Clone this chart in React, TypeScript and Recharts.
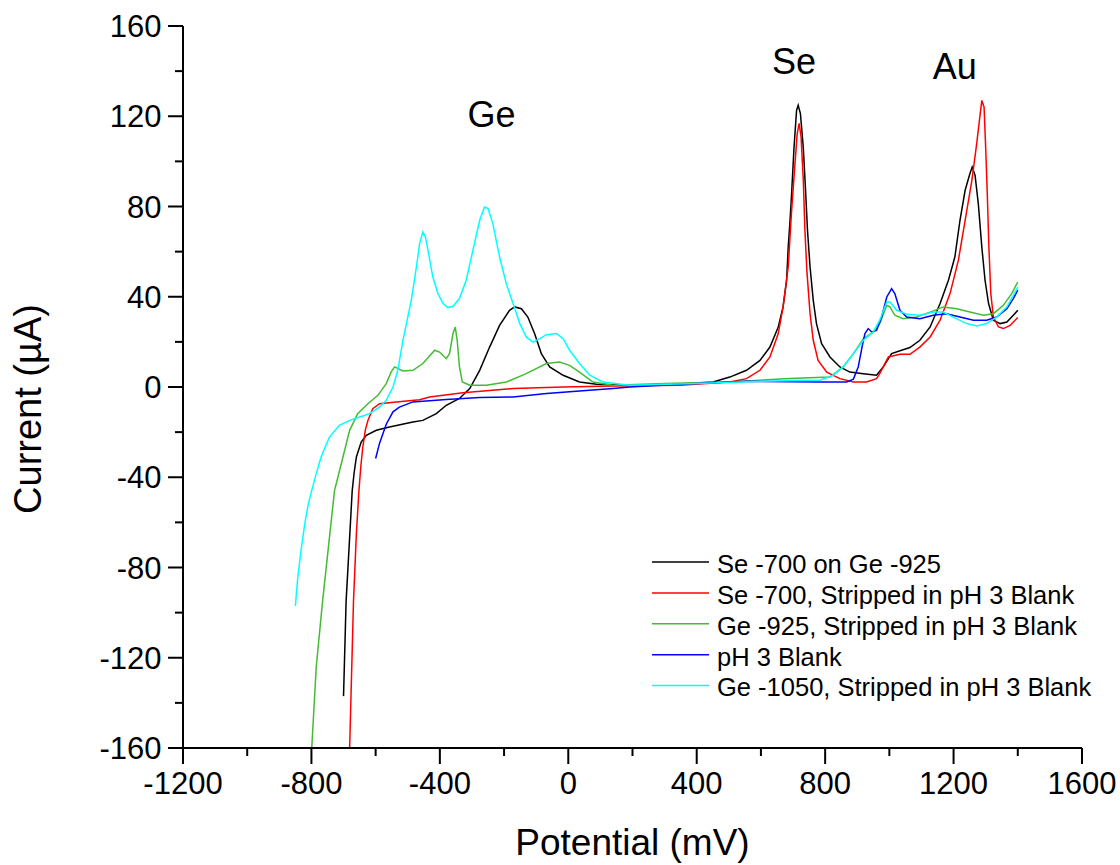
import { LineChart, Line, XAxis, YAxis, Legend, ReferenceDot } from "recharts";

type Pt = [number, number];

const FONT = "'Liberation Sans', Arial, sans-serif";

// potential (mV), current (µA)
const SE_ON_GE: Pt[] = [
  [-700, -137], [-692, -95], [-673, -46], [-667, -38], [-660, -31], [-645, -24.4], [-629, -21.4],
  [-598, -19.2], [-557, -17.7], [-484, -15.5], [-453, -14.8], [-411, -11.8], [-380, -8.1],
  [-339, -5.1], [-307, -0.7], [-276, 7.4], [-245, 17.7], [-214, 27.3], [-183, 34], [-167, 35.5],
  [-146, 34.7], [-126, 31], [-105, 23.7], [-84, 14.8], [-58, 8.9], [-16, 5.2], [35, 2.2],
  [88, 1.2], [191, 0.75], [300, 1.0], [400, 1.8], [451, 2.2], [503, 4.4], [555, 7.4], [597, 11.8],
  [628, 17.7], [654, 26.6], [669, 35.5], [680, 47.3], [685, 62], [690, 72.4], [695, 84.2],
  [703, 106], [711, 122.6], [716, 124.9], [723, 121.2], [732, 106], [739, 87.2], [745, 69.5],
  [753, 53.2], [763, 38.4], [773, 28.1], [789, 19.2], [815, 13.3], [846, 8.9], [877, 6.6],
  [919, 5.9], [960, 5.2], [981, 8.9], [1007, 14.8], [1038, 16.3], [1064, 17.5], [1095, 20.7],
  [1127, 26.6], [1158, 37], [1184, 47.3], [1204, 57.6], [1220, 73.9], [1236, 87.2], [1251, 94.6],
  [1258, 97.5], [1267, 93.8], [1277, 81.3], [1288, 62], [1298, 47.3], [1309, 37], [1324, 29.6],
  [1345, 28.1], [1366, 28.8], [1386, 31.8], [1400, 34],
];

const SE_STRIPPED: Pt[] = [
  [-684, -175], [-681, -160], [-669, -95], [-660, -65], [-652, -45.8], [-646, -35], [-640, -26.6],
  [-632, -19], [-624, -14.8], [-609, -9.6], [-588, -7.4], [-536, -6.6], [-463, -5.6], [-432, -4.4],
  [-328, -2.5], [-172, -0.7], [-16, 0], [139, 0.4], [347, 0.75], [503, 2.2], [555, 3.7],
  [597, 7.4], [628, 13.3], [654, 23.7], [669, 35.5], [685, 53.2], [695, 76.9], [706, 99],
  [713, 112.3], [719, 116.8], [725, 110.8], [732, 91.6], [737, 69.5], [743, 51.7], [753, 32.5],
  [763, 20.7], [778, 11.8], [805, 6.6], [846, 3.7], [888, 2.2], [929, 2.2], [960, 3.7],
  [970, 5.9], [997, 13.3], [1033, 14.5], [1064, 14.5], [1095, 17.7], [1127, 22.2], [1158, 29.6],
  [1189, 41.4], [1215, 56.2], [1236, 73.9], [1257, 91.6], [1272, 107.9], [1283, 121.2],
  [1288, 127], [1295, 124], [1300, 106], [1305, 85.7], [1310, 62], [1316, 41.4], [1324, 31],
  [1340, 26.6], [1355, 25.9], [1376, 27.3], [1400, 30.8],
];

const GE_925: Pt[] = [
  [-805, -175], [-799, -160], [-785, -124], [-765, -94.6], [-728, -45.8], [-707, -34],
  [-681, -19.2], [-656, -11.8], [-624, -7.4], [-593, -3.7], [-567, 1.5], [-552, 6.6], [-541, 8.9],
  [-515, 7.1], [-484, 7.4], [-453, 10.4], [-416, 16.3], [-401, 15.5], [-380, 12.6], [-370, 14.8],
  [-359, 23.7], [-352, 26.6], [-346, 20.7], [-339, 8.9], [-330, 2.2], [-307, 0.75], [-255, 0.75],
  [-193, 2.2], [-131, 5.9], [-68, 10.4], [-27, 11.1], [4, 9.6], [35, 6.6], [77, 2.2], [139, 0.75],
  [300, 1.5], [500, 2.2], [690, 3.8], [815, 4.4], [856, 8.9], [888, 14.8], [919, 21.4],
  [950, 24.4], [970, 28.1], [992, 36.2], [1002, 35.5], [1017, 31.8], [1043, 30.3], [1085, 31],
  [1127, 33.2], [1168, 35.5], [1210, 34.7], [1251, 33.2], [1293, 31.8], [1324, 32.5],
  [1355, 36.2], [1381, 41.4], [1400, 46.5],
];

const BLANK: Pt[] = [
  [-600, -31.7], [-588, -25], [-567, -16.5], [-546, -11], [-526, -8.9], [-484, -6.6],
  [-380, -5.5], [-276, -4.7], [-172, -4.4], [-68, -2.9], [35, -1.8], [139, -0.7], [191, 0],
  [350, 1.2], [555, 2.5], [784, 2.2], [867, 2.2], [888, 3.5], [903, 8.9], [917, 19.2],
  [924, 23.7], [934, 25.9], [945, 24.4], [960, 25.1], [976, 31], [992, 39.9], [1007, 43.6],
  [1017, 41.4], [1033, 34], [1054, 31], [1095, 30.3], [1137, 31.8], [1178, 32.5], [1220, 31],
  [1262, 29.6], [1303, 29.6], [1334, 31], [1366, 34.7], [1386, 39.2], [1400, 42.9],
];

const GE_1050: Pt[] = [
  [-850, -97], [-843, -85], [-832, -72], [-820, -60], [-810, -52], [-799, -45.8], [-785, -38.4],
  [-770, -31], [-744, -22.2], [-713, -17], [-681, -14.8], [-650, -13.3], [-619, -11.8],
  [-588, -8.9], [-567, -5.9], [-546, 0], [-531, 7.4], [-515, 20.7], [-489, 38.4], [-473, 53.2],
  [-463, 63.5], [-453, 68.7], [-445, 66.5], [-437, 60.6], [-422, 48.8], [-406, 41.4], [-390, 37],
  [-375, 35.2], [-359, 35.8], [-339, 39.2], [-318, 47.3], [-297, 60.6], [-276, 73.9],
  [-261, 79.8], [-250, 79.1], [-235, 72.4], [-214, 57.6], [-193, 45.8], [-172, 37], [-151, 28.1],
  [-131, 22.2], [-110, 19.9], [-89, 21.4], [-68, 23.2], [-37, 23.7], [-16, 21.4], [4, 16.3],
  [35, 10.4], [67, 5.2], [108, 2.2], [191, 0.75], [400, 1.5], [600, 2.5], [784, 3], [825, 5.2],
  [856, 8.9], [888, 14.8], [919, 20.7], [950, 24.4], [970, 29.6], [992, 37.7], [1002, 37.7],
  [1023, 34], [1054, 32.2], [1095, 31.8], [1137, 33.2], [1168, 33.2], [1199, 31], [1241, 28.1],
  [1272, 27], [1303, 28.1], [1334, 31], [1366, 35.5], [1386, 40.6], [1400, 44.3],
];

const SERIES = [
  { name: "Se -700 on Ge -925", color: "#000000", points: SE_ON_GE },
  { name: "Se -700, Stripped in pH 3 Blank", color: "#ff0000", points: SE_STRIPPED },
  { name: "Ge -925, Stripped in pH 3 Blank", color: "#44bb33", points: GE_925 },
  { name: "pH 3 Blank", color: "#0000ff", points: BLANK },
  { name: "Ge -1050, Stripped in pH 3 Blank", color: "#00ffff", points: GE_1050 },
];

const X_TICKS = [-1200, -1000, -800, -600, -400, -200, 0, 200, 400, 600, 800, 1000, 1200, 1400, 1600];
const X_LABELED = [-1200, -800, -400, 0, 400, 800, 1200, 1600];
const Y_TICKS = [-160, -140, -120, -100, -80, -60, -40, -20, 0, 20, 40, 60, 80, 100, 120, 140, 160];
const Y_LABELED = [-160, -120, -80, -40, 0, 40, 80, 120, 160];

const PEAK_LABELS = [
  { text: "Ge", x: -239, y: 121 },
  { text: "Se", x: 703, y: 144.5 },
  { text: "Au", x: 1204, y: 142 },
];

function XTick({ x, y, payload }: any) {
  const major = X_LABELED.includes(payload.value);
  return (
    <g>
      <line x1={x} y1={y} x2={x} y2={y + (major ? 16 : 8)} stroke="#000" strokeWidth={2} />
      {major && (
        <text x={x} y={y + 46} textAnchor="middle" fontSize={31} fontFamily={FONT} fill="#000">
          {payload.value}
        </text>
      )}
    </g>
  );
}

function YTick({ x, y, payload }: any) {
  const major = Y_LABELED.includes(payload.value);
  return (
    <g>
      <line x1={x - (major ? 15 : 8)} y1={y} x2={x} y2={y} stroke="#000" strokeWidth={2} />
      {major && (
        <text x={x - 21.5} y={y + 11} textAnchor="end" fontSize={31} fontFamily={FONT} fill="#000">
          {payload.value}
        </text>
      )}
    </g>
  );
}

function XTitle({ viewBox }: any) {
  const cx = viewBox.x + viewBox.width / 2;
  return (
    <text x={cx} y={855} textAnchor="middle" fontSize={37} fontFamily={FONT} fill="#000">
      Potential (mV)
    </text>
  );
}

function YTitle({ viewBox }: any) {
  const cy = viewBox.y + viewBox.height / 2 + 22;
  return (
    <text x={41} y={cy} transform={`rotate(-90 41 ${cy})`} textAnchor="middle" fontSize={38}
      fontFamily={FONT} fill="#000">
      Current (µA)
    </text>
  );
}

function LegendBox() {
  return (
    <svg width={470} height={170} style={{ display: "block" }}>
      {SERIES.map((s, i) => {
        const ly = 22 + i * 30.9;
        return (
          <g key={s.name}>
            <line x1={12} y1={ly} x2={69} y2={ly} stroke={s.color} strokeWidth={1.5} />
            <text x={77} y={ly + 10.8} fontSize={25.5} fontFamily={FONT} fill="#000">
              {s.name}
            </text>
          </g>
        );
      })}
    </svg>
  );
}

export default function App() {
  return (
    <div style={{ position: "absolute", left: 0, top: 0, width: 1120, height: 865, background: "#fff" }}>
      <LineChart width={1120} height={865} margin={{ top: 26, right: 38, left: 0, bottom: 0 }}>
        <XAxis
          type="number"
          dataKey="x"
          domain={[-1200, 1600]}
          ticks={X_TICKS}
          interval={0}
          height={117}
          tickSize={0}
          tickMargin={0}
          tickLine={false}
          tick={<XTick />}
          axisLine={{ stroke: "#000", strokeWidth: 2 }}
          allowDataOverflow
          label={<XTitle />}
        />
        <YAxis
          type="number"
          dataKey="y"
          domain={[-160, 160]}
          ticks={Y_TICKS}
          interval={0}
          width={183}
          tickSize={0}
          tickMargin={0}
          tickLine={false}
          tick={<YTick />}
          axisLine={{ stroke: "#000", strokeWidth: 2 }}
          allowDataOverflow
          label={<YTitle />}
        />
        {SERIES.map((s) => (
          <Line
            key={s.name}
            name={s.name}
            data={s.points.map(([x, y]) => ({ x, y }))}
            dataKey="y"
            type="linear"
            stroke={s.color}
            strokeWidth={1.5}
            dot={false}
            activeDot={false}
            isAnimationActive={false}
          />
        ))}
        {PEAK_LABELS.map((p) => (
          <ReferenceDot
            key={p.text}
            x={p.x}
            y={p.y}
            r={0}
            fill="none"
            stroke="none"
            label={{ value: p.text, position: "center", fontSize: 36, fontFamily: FONT, fill: "#000" }}
          />
        ))}
        <Legend
          layout="vertical"
          align="center"
          verticalAlign="middle"
          wrapperStyle={{ left: 640, top: 540, width: 470, height: 170 }}
          content={() => <LegendBox />}
        />
      </LineChart>
    </div>
  );
}
